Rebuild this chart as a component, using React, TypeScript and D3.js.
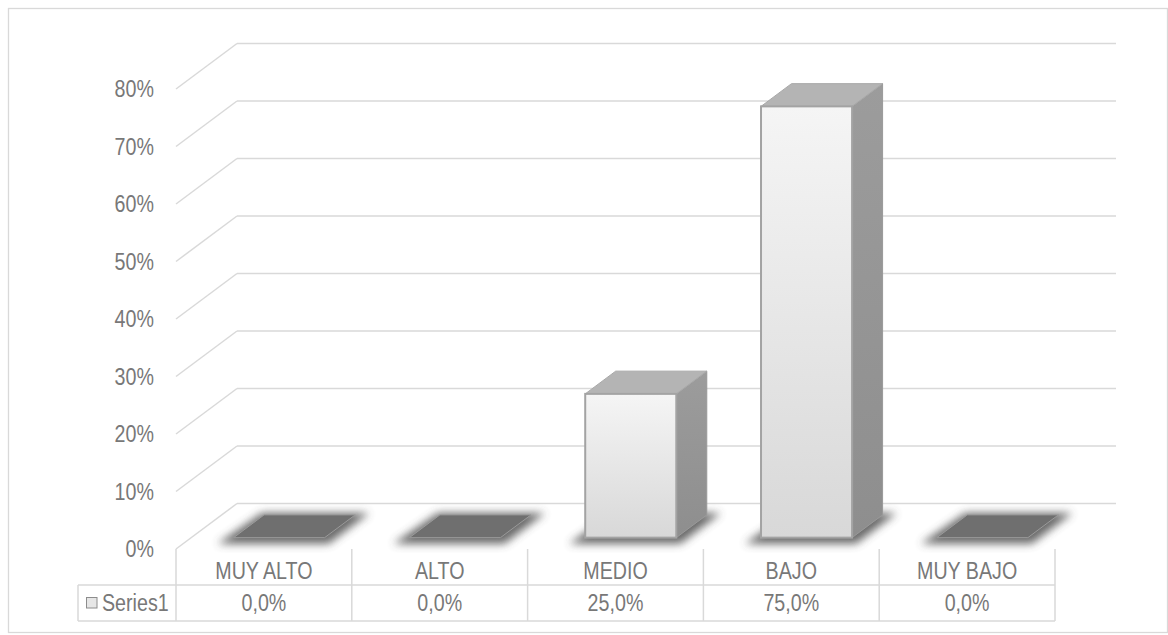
import React from "react";
import * as d3 from "d3";

const categories = ["MUY ALTO", "ALTO", "MEDIO", "BAJO", "MUY BAJO"];
const values = [0, 0, 0.25, 0.75, 0];
const valueLabels = ["0,0%", "0,0%", "25,0%", "75,0%", "0,0%"];
const yTicks = [0, 0.1, 0.2, 0.3, 0.4, 0.5, 0.6, 0.7, 0.8];
const seriesName = "Series1";

const W = 1168;
const H = 635;
const FONT = "'Liberation Sans', Arial, sans-serif";
const TXT = "#787878";
const GRID = "#d9d9d9";
const NARROW = 0.82;

function NText(props: { x: number; y: number; anchor?: string; children: React.ReactNode }) {
  return (
    <text
      transform={`translate(${props.x},${props.y}) scale(${NARROW},1)`}
      x={0}
      y={0}
      textAnchor={props.anchor || "start"}
      dominantBaseline="middle"
      fontSize={24}
      fill={TXT}
    >
      {props.children}
    </text>
  );
}

export default function App() {
  const frontLeft = 176;
  const frontRight = 1055;
  const floorY = 549;
  const depth = { x: 61, y: -45.5 };
  const y = d3.scaleLinear().domain([0, 0.8]).range([floorY, floorY - 460]);
  const x = d3.scaleBand<string>().domain(categories).range([frontLeft, frontRight]).paddingInner(0).paddingOuter(0);
  const bw = x.bandwidth();
  const barW = bw * 0.518;
  const dFront = 0.25;
  const dBack = 0.75;
  const off = (d: number) => ({ x: depth.x * d, y: depth.y * d });

  const tableTop = floorY;
  const rowMid = 585;
  const tableBottom = 621;
  const legendLeft = 78;

  const pts = (arr: [number, number][]) => arr.map((p) => p.join(",")).join(" ");

  return (
    <svg width={W} height={H} style={{ position: "absolute", left: 0, top: 0, background: "#fff" }} fontFamily={FONT}>
      <defs>
        <linearGradient id="frontGrad" x1="0" y1="0" x2="0" y2="1">
          <stop offset="0" stopColor="#f5f5f5" />
          <stop offset="1" stopColor="#d8d8d8" />
        </linearGradient>
        <linearGradient id="sideGrad" x1="0" y1="0" x2="0" y2="1">
          <stop offset="0" stopColor="#9c9c9c" />
          <stop offset="1" stopColor="#8e8e8e" />
        </linearGradient>
        <filter id="blur" x="-30%" y="-100%" width="160%" height="300%">
          <feGaussianBlur stdDeviation="4" />
        </filter>
      </defs>
      <rect x={8.5} y={8.5} width={W - 9} height={624} fill="#fff" stroke={GRID} strokeWidth={1.3} />

      {yTicks.map((t) => {
        const fy = y(t);
        const by = fy + depth.y;
        return (
          <g key={"g" + t}>
            <line x1={frontLeft} y1={fy} x2={frontLeft + depth.x} y2={by} stroke={GRID} strokeWidth={1.5} />
            <line x1={frontLeft + depth.x} y1={by} x2={frontRight + depth.x} y2={by} stroke={GRID} strokeWidth={1.5} />
          </g>
        );
      })}

      {yTicks.map((t) => (
        <NText key={"l" + t} x={154} y={y(t) + 2} anchor="end">
          {Math.round(t * 100) + "%"}
        </NText>
      ))}

      {categories.map((c, i) => {
        const v = values[i];
        const cx = (x(c) as number) + bw / 2;
        const f = off(dFront);
        const b = off(dBack);
        const l = cx - barW / 2 + f.x;
        const r = cx + barW / 2 + f.x;
        const baseY = floorY + f.y;
        const topY = y(v) + f.y;
        const dx = b.x - f.x;
        const dy = b.y - f.y;
        const shadow = (
          <polygon
            points={pts([
              [l - 16, baseY + 6],
              [r + 4, baseY + 6],
              [r + dx + 14, baseY + dy - 2],
              [l + dx - 2, baseY + dy - 2],
            ])}
            fill="#444"
            opacity={0.8}
            filter="url(#blur)"
          />
        );
        if (v === 0) {
          return (
            <g key={c}>
              {shadow}
              <polygon
                points={pts([
                  [l, baseY],
                  [r, baseY],
                  [r + dx, baseY + dy],
                  [l + dx, baseY + dy],
                ])}
                fill="#6f6f6f"
                stroke="#9a9a9a"
                strokeWidth={1}
              />
            </g>
          );
        }
        return (
          <g key={c}>
            {shadow}
            <polygon
              points={pts([
                [r, baseY],
                [r + dx, baseY + dy],
                [r + dx, topY + dy],
                [r, topY],
              ])}
              fill="url(#sideGrad)"
              stroke="#999"
              strokeWidth={1}
            />
            <polygon
              points={pts([
                [l, topY],
                [r, topY],
                [r + dx, topY + dy],
                [l + dx, topY + dy],
              ])}
              fill="#b4b4b4"
              stroke="#a8a8a8"
              strokeWidth={1}
            />
            <rect x={l} y={topY} width={r - l} height={baseY - topY} fill="url(#frontGrad)" stroke="#a3a3a3" strokeWidth={2} />
          </g>
        );
      })}

      <g stroke={GRID} strokeWidth={1.5} fill="none">
        {d3.range(categories.length + 1).map((k) => {
          const xx = frontLeft + k * bw;
          return <line key={"v" + k} x1={xx} y1={tableTop} x2={xx} y2={tableBottom} />;
        })}
        <line x1={legendLeft} y1={rowMid} x2={frontRight} y2={rowMid} />
        <line x1={legendLeft} y1={tableBottom} x2={frontRight} y2={tableBottom} />
        <line x1={legendLeft} y1={rowMid} x2={legendLeft} y2={tableBottom} />
      </g>
      {categories.map((c, i) => (
        <g key={"t" + c}>
          <NText x={(x(c) as number) + bw / 2} y={573} anchor="middle">
            {c}
          </NText>
          <NText x={(x(c) as number) + bw / 2} y={605} anchor="middle">
            {valueLabels[i]}
          </NText>
        </g>
      ))}
      <rect x={86.5} y={597.5} width={10.5} height={10.5} fill="#e6e6e6" stroke="#8c8c8c" strokeWidth={1} />
      <NText x={102} y={605}>
        {seriesName}
      </NText>
    </svg>
  );
}
